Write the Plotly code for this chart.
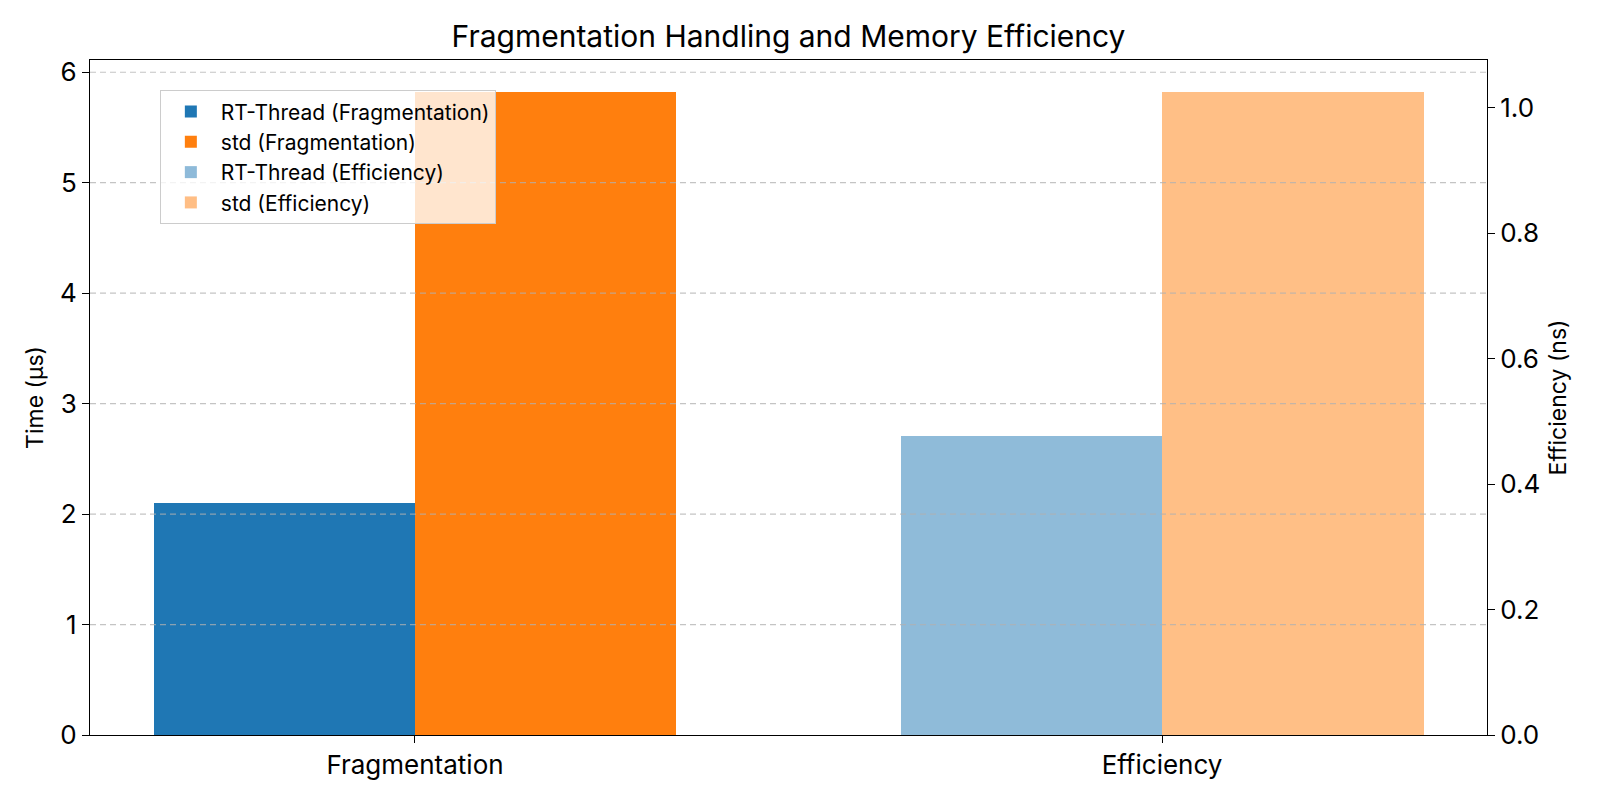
import plotly.graph_objects as go

categories = ["Fragmentation", "Efficiency"]
rt_fragmentation = [2.10]
std_fragmentation = [5.82]
rt_efficiency = [0.476]
std_efficiency = [1.025]
left_ticks = [0, 1, 2, 3, 4, 5, 6]
right_ticks = [0.0, 0.2, 0.4, 0.6, 0.8, 1.0]
right_tick_labels = ["0.0", "0.2", "0.4", "0.6", "0.8", "1.0"]

blue = "#1f77b4"
orange = "#ff7f0e"
bar_w = 0.35
FONT = "Inter"

fig = go.Figure()
fig.add_trace(go.Bar(x=[0], y=rt_fragmentation, width=bar_w, offset=-bar_w,
                     marker=dict(color=blue, line=dict(width=0)),
                     name="RT-Thread (Fragmentation)", yaxis="y"))
fig.add_trace(go.Bar(x=[0], y=std_fragmentation, width=bar_w, offset=0,
                     marker=dict(color=orange, line=dict(width=0)),
                     name="std (Fragmentation)", yaxis="y"))
fig.add_trace(go.Bar(x=[1], y=rt_efficiency, width=bar_w, offset=-bar_w,
                     marker=dict(color=blue, line=dict(width=0)), opacity=0.5,
                     name="RT-Thread (Efficiency)", yaxis="y2"))
fig.add_trace(go.Bar(x=[1], y=std_efficiency, width=bar_w, offset=0,
                     marker=dict(color=orange, line=dict(width=0)), opacity=0.5,
                     name="std (Efficiency)", yaxis="y2"))

ymax = max(std_fragmentation) * 1.05
y2max = max(std_efficiency) * 1.05

# dashed grid drawn above the bars, as in the reference
for t in left_ticks[1:]:
    fig.add_shape(type="line", xref="paper", x0=0, x1=1, yref="y", y0=t, y1=t,
                  line=dict(color="rgba(176,176,176,0.75)", width=1.2, dash="6px,4px"),
                  layer="above")

fig.update_layout(
    width=1600, height=800,
    margin=dict(l=90, r=113, t=60, b=65),
    paper_bgcolor="white", plot_bgcolor="white",
    font=dict(family=FONT, color="black", size=26),
    title=dict(text="Fragmentation Handling and Memory Efficiency", x=0.5, xanchor="center",
               xref="paper", y=0.955, yanchor="middle",
               font=dict(size=30, family=FONT, color="black")),
    barmode="overlay",
    bargap=0,
    showlegend=True,
    legend=dict(x=0.05, y=0.955, xanchor="left", yanchor="top",
                bgcolor="rgba(255,255,255,0.8)", bordercolor="#cccccc", borderwidth=1,
                font=dict(size=21, family=FONT), tracegroupgap=0, itemwidth=50),
    xaxis=dict(range=[-0.435, 1.435], tickvals=[0, 1], ticktext=categories,
               showgrid=False, zeroline=False, showline=True, linecolor="black", linewidth=1.2,
               mirror=True, ticks="outside", ticklen=7, tickcolor="black",
               tickfont=dict(size=26)),
    yaxis=dict(title=dict(text="Time (µs)", font=dict(size=23), standoff=9),
               range=[0, ymax], tickvals=left_ticks,
               showgrid=False, zeroline=False, showline=True, linecolor="black", linewidth=1.2,
               ticks="outside", ticklen=7, tickcolor="black", tickfont=dict(size=26)),
    yaxis2=dict(title=dict(text="Efficiency (ns)", font=dict(size=23), standoff=10),
                range=[0, y2max], tickvals=right_ticks, ticktext=right_tick_labels,
                overlaying="y", side="right", showgrid=False, zeroline=False,
                showline=True, linecolor="black", linewidth=1.2,
                ticks="outside", ticklen=7, tickcolor="black", tickfont=dict(size=26)),
)

fig.write_html("out.html")
